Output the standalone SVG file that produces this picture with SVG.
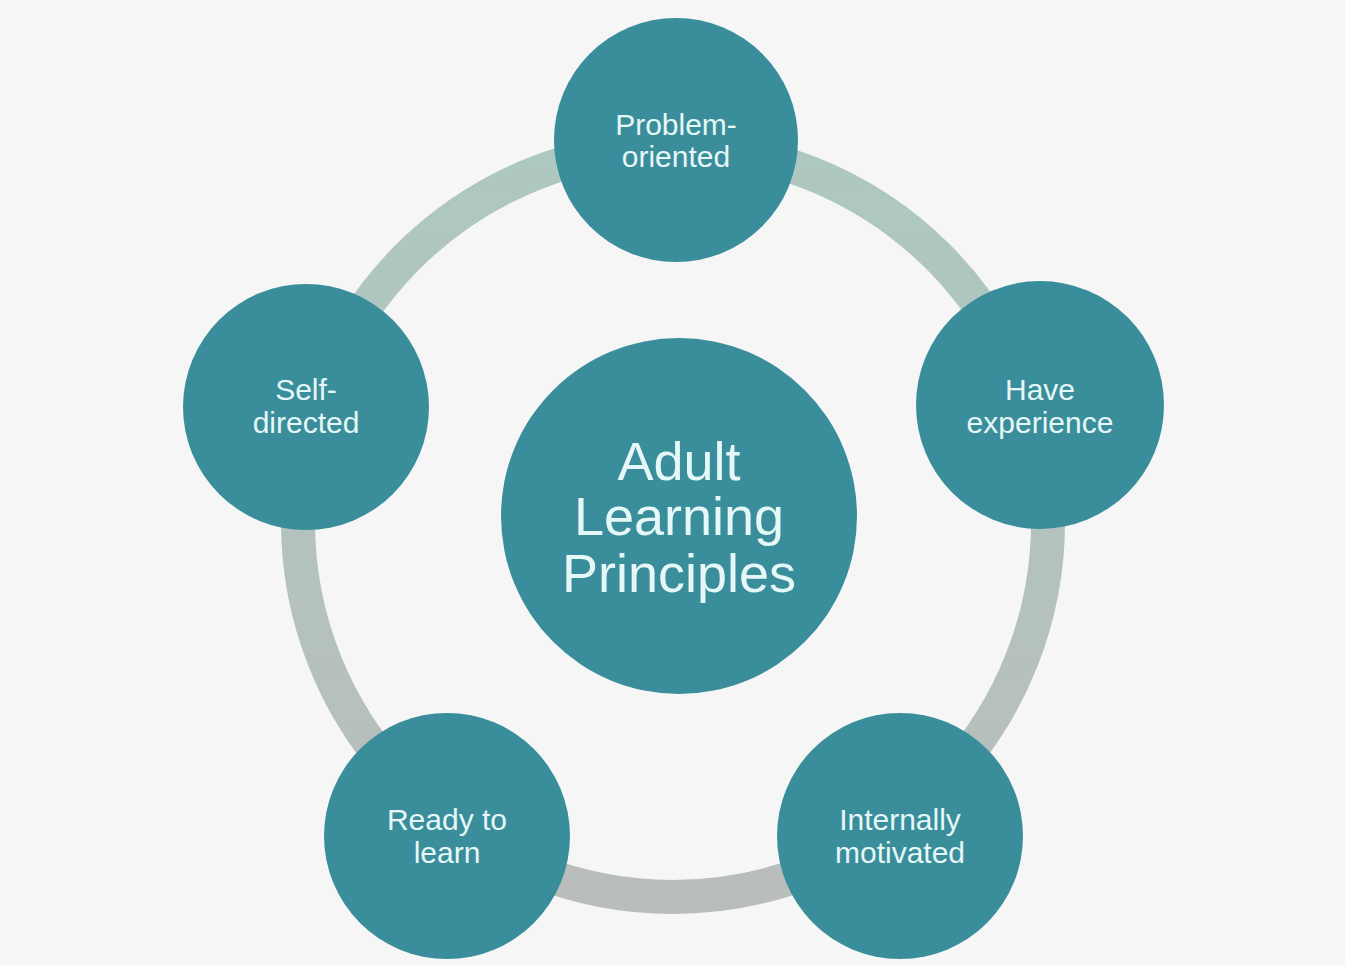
<svg xmlns="http://www.w3.org/2000/svg" width="1345" height="965" viewBox="0 0 1345 965">
<style>
.node{fill:#3a8e9b;}
.lbl{font-family:"Liberation Sans",Arial,sans-serif;font-size:30px;fill:#e6f7f7;text-anchor:middle;}
.big{font-family:"Liberation Sans",Arial,sans-serif;font-size:54px;fill:#e6f7f7;text-anchor:middle;}
</style>
<defs>
<linearGradient id="ringg" x1="0" y1="0" x2="0" y2="1">
<stop offset="0" stop-color="#adc8c0"/>
<stop offset="1" stop-color="#b9bdbc"/>
</linearGradient>
</defs>
<rect width="1345" height="965" fill="#f6f6f6"/>
<g id="connectors">
<circle cx="673" cy="522" r="375" fill="none" stroke="url(#ringg)" stroke-width="34"/>
</g>
<g id="center">
<circle class="node" cx="679" cy="516" r="178"/>
<text class="big"><tspan x="679" y="480">Adult</tspan><tspan x="679" y="535">Learning</tspan><tspan x="679" y="592">Principles</tspan></text>
</g>
<g id="problem">
<circle class="node" cx="676" cy="140" r="122"/>
<text class="lbl"><tspan x="676" y="135">Problem-</tspan><tspan x="676" y="167">oriented</tspan></text>
</g>
<g id="self">
<circle class="node" cx="306" cy="407" r="123"/>
<text class="lbl"><tspan x="306" y="400">Self-</tspan><tspan x="306" y="433">directed</tspan></text>
</g>
<g id="experience">
<circle class="node" cx="1040" cy="405" r="124"/>
<text class="lbl"><tspan x="1040" y="400">Have</tspan><tspan x="1040" y="433">experience</tspan></text>
</g>
<g id="ready">
<circle class="node" cx="447" cy="836" r="123"/>
<text class="lbl"><tspan x="447" y="830">Ready to</tspan><tspan x="447" y="863">learn</tspan></text>
</g>
<g id="motivated">
<circle class="node" cx="900" cy="836" r="123"/>
<text class="lbl"><tspan x="900" y="830">Internally</tspan><tspan x="900" y="863">motivated</tspan></text>
</g>
</svg>
